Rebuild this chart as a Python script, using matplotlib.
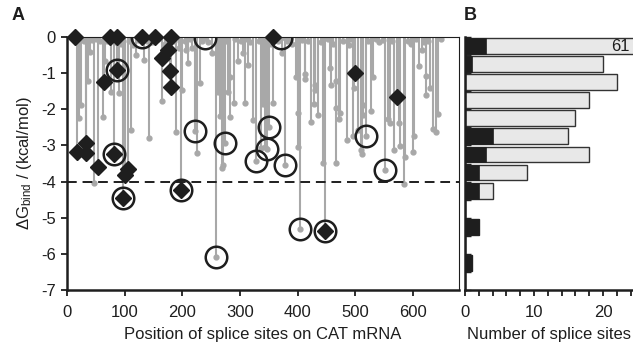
import numpy as np
import matplotlib
matplotlib.use("Agg")
import matplotlib.pyplot as plt

plt.rcParams['font.family'] = ['Liberation Sans', 'DejaVu Sans']
plt.rcParams['mathtext.default'] = 'regular'
plt.rcParams['axes.unicode_minus'] = False

# ------------------------------
# data: splice sites (position, binding energy)
# ------------------------------
site_pos = [14, 17, 21, 25, 30, 33, 33, 37, 40, 44, 46, 50, 54, 58, 63, 64, 66, 70, 75, 77,
            81, 84, 87, 87, 90, 93, 97, 100, 105, 108, 111, 115, 120, 124, 130, 133, 138, 143, 148, 152,
            158, 164, 165, 170, 176, 178, 180, 181, 185, 189, 194, 198, 199, 204, 207, 210, 214, 217, 222, 225,
            230, 235, 239, 244, 251, 258, 262, 265, 269, 271, 274, 276, 280, 283, 283, 289, 292, 297, 302, 306,
            308, 312, 314, 318, 322, 327, 333, 337, 340, 343, 347, 350, 354, 357, 358, 362, 366, 371, 373, 378,
            382, 386, 390, 397, 400, 401, 405, 408, 412, 413, 418, 424, 428, 430, 431, 436, 440, 444, 448, 452,
            457, 458, 462, 466, 466, 466, 472, 473, 478, 486, 489, 493, 497, 496, 499, 504, 510, 511, 513, 514,
            518, 522, 527, 531, 536, 542, 548, 551, 556, 560, 564, 568, 573, 576, 578, 584, 587, 592, 597, 600,
            602, 606, 611, 615, 619, 622, 623, 627, 630, 635, 640, 644, 648]
site_dg = [0, -3.18, -2.25, -1.88, -0.1, -2.93, -3.22, -1.23, -0.41, -0.08, -4.04, -0.05, -3.6, -0.12, -2.2, -1.24, -0.66, -0.1, 0, -1.51,
           -3.25, -0.15, 0, -0.91, -1.55, -0.2, -4.45, -3.82, -3.65, -0.1, -2.57, -0.22, -0.5, -0.08, 0, -0.64, -0.1, -2.8, -0.15, 0,
           -0.05, -1.78, -0.58, -0.2, -0.37, -0.95, -1.38, 0, -0.1, -2.63, -0.3, -4.23, -1.46, -0.1, -0.36, -0.72, -0.05, -0.31, -2.6, -3.21,
           -1.28, -0.1, -0.03, -0.15, -0.45, -6.08, -1.51, -2.18, -3.63, -3.54, -2.93, -0.1, -1.51, -1.1, -2.2, -1.83, -0.05, -0.67, -0.1, -0.45,
           -1.83, -0.05, -0.77, -0.15, -2.31, -3.42, -0.1, -3.07, -1.85, -3.05, -3.1, -2.48, -0.2, 0, -1.83, -0.08, -0.1, -0.02, -0.45, -3.54,
           -0.12, -0.05, -0.2, -1.1, -2.1, -3.05, -5.3, -0.08, -1.02, -1.16, -0.1, -2.34, -1.85, -1.33, -1.48, -2.17, -0.15, -3.49, -5.38, -0.05,
           -0.87, -1.34, -0.2, -1.23, -1.97, -3.49, -2.27, -2.11, -0.1, -2.86, -0.22, -0.05, -1.42, -2.75, -1.0, -2.57, -3.12, -3.23, -1.88, -2.15,
           -2.75, -0.1, -2.04, -1.1, -0.05, -0.15, -0.08, -3.69, -2.27, -2.38, -0.1, -3.12, -1.67, -2.38, -3.01, -4.06, -3.32, -0.1, -0.2, -3.17,
           -2.73, -0.05, -0.79, -0.36, -0.15, -1.08, -1.6, -0.1, -1.42, -2.55, -2.64, -2.13, -0.05]

diamond_pos = [14, 17, 33, 33, 54, 64, 75, 87, 87, 81, 100, 105, 97, 130, 152, 165, 176, 178, 180, 181,
               198, 357, 448, 499, 573]
diamond_dg = [0, -3.18, -2.93, -3.22, -3.6, -1.24, 0, 0, -0.91, -3.25, -3.82, -3.65, -4.45, 0, 0, -0.58, -0.37, -0.95, -1.38, 0,
              -4.23, 0, -5.38, -1.0, -1.67]

circle_pos = [87, 81, 97, 130, 198, 239, 222, 274, 258, 327, 350, 347, 378, 371, 405, 448, 518, 551]
circle_dg = [-0.91, -3.25, -4.45, 0, -4.23, -0.03, -2.6, -2.93, -6.08, -3.42, -2.48, -3.1, -3.54, -0.02, -5.3, -5.38, -2.75, -3.69]

# histogram of binding energies (0.5 kcal/mol bins from 0 downwards)
bin_top = [0, -0.5, -1, -1.5, -2, -2.5, -3, -3.5, -4, -4.5, -5, -5.5, -6, -6.5]
bin_total = [61, 20, 22, 18, 16, 15, 18, 9, 4, 0, 2, 0, 1, 0]
bin_black = [3, 1, 0, 0, 0, 4, 3, 2, 2, 0, 2, 0, 1, 0]

grey = '#a8a8a8'
dark = '#1e1e1e'
fs = 12

fig = plt.figure(figsize=(6.33, 3.49), dpi=100)
axA = fig.add_axes([67 / 633, 1 - 290 / 349, (459 - 67) / 633, (290 - 37) / 349])
axB = fig.add_axes([465 / 633, 1 - 290 / 349, (633 - 465) / 633, (290 - 37) / 349])

# ------------------------------
# panel A
# ------------------------------
axA.vlines(site_pos, site_dg, 0, colors=grey, linewidth=1.5, zorder=1)
axA.plot(site_pos, site_dg, 'o', color=grey, markersize=3.5, zorder=2)
axA.axhline(-4, color=dark, linewidth=1.4, dashes=(5, 3), zorder=3)
axA.plot(circle_pos, circle_dg, 'o', markerfacecolor='none', markeredgecolor=dark,
         markersize=15.5, markeredgewidth=1.8, zorder=4)
axA.plot(diamond_pos, diamond_dg, 'D', color=dark, markersize=7.8, zorder=5, clip_on=False)

axA.set_xlim(0, 680)
axA.set_ylim(-7, 0)
axA.set_xticks(range(0, 700, 100))
axA.set_yticks(range(-7, 1))
axA.tick_params(direction='out', length=4, width=1.3, labelsize=fs, colors=dark, pad=7)
axA.tick_params(axis='y', pad=4)
for side in ['left', 'bottom']:
    axA.spines[side].set_linewidth(1.8)
for side in ['top', 'right']:
    axA.spines[side].set_linewidth(0.8)
for s in axA.spines.values():
    s.set_color(dark)
axA.set_xlabel('Position of splice sites on CAT mRNA', fontsize=fs, color=dark, labelpad=5)
axA.set_ylabel('ΔG$_{bind}$ / (kcal/mol)', fontsize=fs, color=dark, labelpad=5)

# ------------------------------
# panel B
# ------------------------------
centers = np.array(bin_top) - 0.25
axB.barh(centers, bin_total, height=0.44, color='#e8e8e8', edgecolor='#333333', linewidth=1.0, zorder=2)
axB.barh(centers, bin_black, height=0.44, color=dark, edgecolor=dark, linewidth=0.5, zorder=3)
axB.text(23.9, centers[0], str(bin_total[0]), ha='right', va='center', fontsize=fs, color=dark, zorder=4)

axB.set_xlim(0, 24.35)
axB.set_ylim(-7, 0)
axB.set_xticks([0, 10, 20])
axB.set_xticks(np.arange(0, 25, 2), minor=True)
axB.set_yticks(np.arange(-7, 0.01, 0.5))
axB.set_yticklabels([])
axB.tick_params(axis='x', which='both', direction='out', length=4, width=1.3, labelsize=fs, colors=dark, pad=7)
axB.tick_params(axis='y', direction='in', length=4, width=1.0, colors=dark)
axB.spines['top'].set_visible(False)
axB.spines['right'].set_visible(False)
for side in ['left', 'bottom']:
    axB.spines[side].set_linewidth(1.8)
    axB.spines[side].set_color(dark)
axB.set_xlabel('Number of splice sites', fontsize=fs, color=dark, labelpad=5)

fig.text(12 / 633, 1 - 15 / 349, 'A', fontsize=13, fontweight='bold', va='center', color=dark)
fig.text(464 / 633, 1 - 15 / 349, 'B', fontsize=13, fontweight='bold', va='center', color=dark)

fig.savefig('out.png', dpi=100)
